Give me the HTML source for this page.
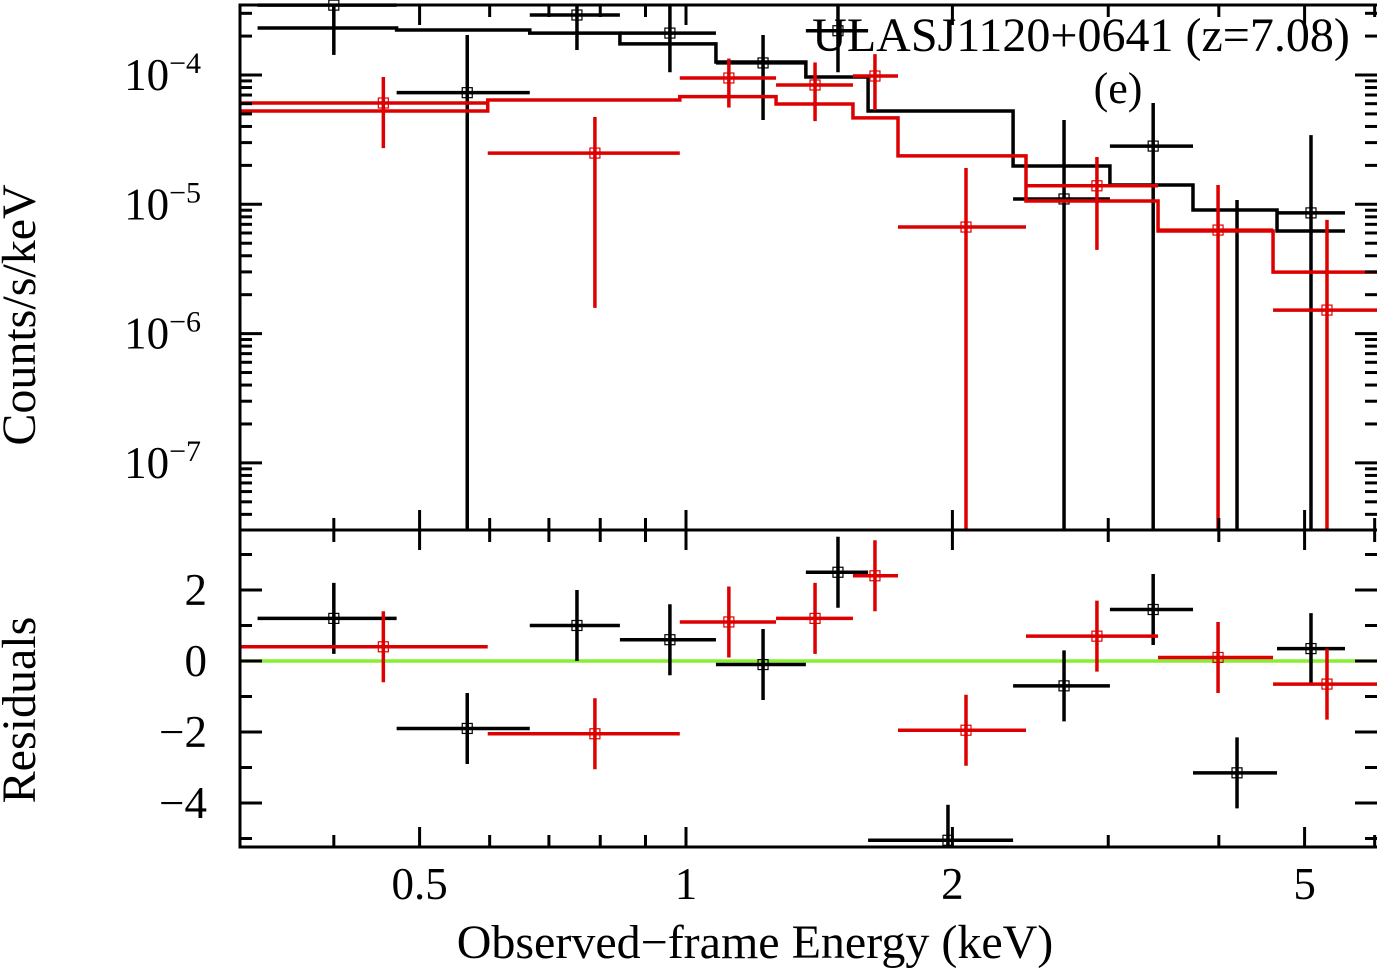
<!DOCTYPE html>
<html><head><meta charset="utf-8"><style>
html,body{margin:0;padding:0;background:#fff;}
svg{display:block;font-family:"Liberation Serif",serif;}
</style></head><body>
<svg id="c" width="1377" height="968" viewBox="0 0 1377 968">
<g id="g"></g>
<text x="1081" y="51" font-size="48" text-anchor="middle">ULASJ1120+0641 (z=7.08)</text>
<text x="1118" y="103" font-size="44" text-anchor="middle">(e)</text>
<text transform="translate(35,315) rotate(-90)" font-size="48" text-anchor="middle">Counts/s/keV</text>
<text transform="translate(35,710) rotate(-90)" font-size="48" text-anchor="middle">Residuals</text>
<text x="755" y="958" font-size="48" text-anchor="middle">Observed−frame Energy (keV)</text>
</svg>
<script>
// black data (energy bins, counts)
const bLo=[0.328,0.471,0.666,0.842,1.081,1.366,1.606,2.342,3.013,3.74,4.654];
const bHi=[0.471,0.666,0.842,1.081,1.366,1.606,2.342,3.013,3.74,4.654,5.554];
const bE=[0.400,0.566,0.753,0.959,1.222,1.485,1.977,2.674,3.372,4.194,5.084];
const bVal=[3.47e-4,7.3e-5,2.91e-4,2.11e-4,1.24e-4,2.2e-4,0,1.1e-5,2.82e-5,0,8.58e-6];
const bErrLo=[1.43e-4,0,1.56e-4,1.05e-4,4.49e-5,1.05e-4,0,0,0,0,0];
const bErrHi=[3.8e-4,2.04e-4,3.8e-4,3.8e-4,2.04e-4,3.8e-4,0,4.49e-5,6.07e-5,1.08e-5,3.43e-5];
const bModel=[2.31e-4,2.23e-4,2.11e-4,1.74e-4,1.26e-4,9.66e-5,5.27e-5,1.98e-5,1.41e-5,9.04e-6,6.22e-6];
const bRes=[1.2,-1.9,1.0,0.6,-0.1,2.5,-5.05,-0.7,1.45,-3.15,0.35];
// red data
const rLo=[0.313,0.597,0.984,1.264,1.544,1.736,2.422,3.415,4.606];
const rHi=[0.597,0.984,1.264,1.544,1.736,2.422,3.415,4.606,6.04];
const rE=[0.455,0.789,1.118,1.399,1.635,2.072,2.913,3.992,5.30];
const rVal=[6.07e-5,2.49e-5,9.48e-5,8.37e-5,9.82e-5,6.67e-6,1.39e-5,6.32e-6,1.52e-6];
const rErrLo=[2.72e-5,1.58e-6,5.6e-5,4.4e-5,5.36e-5,0,4.44e-6,0,0];
const rErrHi=[9.66e-5,4.73e-5,1.34e-4,1.25e-4,1.45e-4,1.91e-5,2.32e-5,1.41e-5,7.57e-6];
const rModel=[5.27e-5,6.41e-5,6.8e-5,5.97e-5,4.66e-5,2.37e-5,1.06e-5,6.22e-6,2.99e-6];
const rRes=[0.4,-2.05,1.1,1.2,2.4,-1.95,0.7,0.1,-0.65];
const xTicks=[0.5,1,2,5];
const yTicksTop=[-7,-6,-5,-4];
const yTicksRes=[-4,-2,0,2];

const L=240,R=1377,T=5,MID=530,B=847;
const NS='http://www.w3.org/2000/svg';
const g=document.getElementById('g');
function X(e){return 686+885*Math.log10(e);}
function Y(v){return 75-129.3*(Math.log10(v)+4);}
function Yc(v){return v<=0?MID:Math.max(T,Math.min(MID,Y(v)));}
function Yr(r){return 661-35.5*r;}
function Yrc(r){return Math.max(MID,Math.min(B,Yr(r)));}
function el(t,a){const e=document.createElementNS(NS,t);for(const k in a)e.setAttribute(k,a[k]);g.appendChild(e);return e;}
function line(x1,y1,x2,y2,c,w,name){const e=el('line',{x1,y1,x2,y2,stroke:c,'stroke-width':w});

return e;}
function mark(x,y,c,name){const e=el('rect',{x:x-5,y:y-5,width:10,height:10,fill:'none',stroke:c,'stroke-width':1.2});

}

// green zero line
line(L,Yr(0),R,Yr(0),'#88ee33',3.5,'zero-line');

function series(lo,hi,E,val,elo,ehi,model,res,c,nm){
  let d='';
  for(let i=0;i<lo.length;i++){const y=Yc(model[i]);d+=(i?'L':'M')+X(lo[i])+' '+y+' L'+X(hi[i])+' '+y+' ';}
  const p=el('path',{d,fill:'none',stroke:c,'stroke-width':3.5});
  
  
  for(let i=0;i<lo.length;i++){
    const xc=X(E[i]);
    if(val[i]>0){const y=Yc(val[i]);
      line(X(lo[i]),y,X(hi[i]),y,c,3.5,nm+'-data-xerr');
      mark(xc,y,c,nm+'-data-point');}
    if(ehi[i]>0) line(xc,Yc(elo[i]),xc,Yc(ehi[i]),c,3.5,nm+'-data-yerr');
    const yr=Yr(res[i]);
    if(yr<=B+2){line(X(lo[i]),Math.min(yr,B),X(hi[i]),Math.min(yr,B),c,3.5,nm+'-residual-xerr');
      mark(xc,Math.min(yr,B-6),c,nm+'-residual-point');}
    line(xc,Yrc(res[i]+1),xc,Yrc(res[i]-1),c,3.5,nm+'-residual-yerr');
  }
}
series(bLo,bHi,bE,bVal,bErrLo,bErrHi,bModel,bRes,'#000','black');
series(rLo,rHi,rE,rVal,rErrLo,rErrHi,rModel,rRes,'#dd0000','red');

[[T,MID],[MID,B]].forEach((p,i)=>{const r=el('rect',{x:L,y:p[0],width:R-L+2,height:p[1]-p[0],fill:'none',stroke:'#000','stroke-width':3});

});

const minors=[0.4,0.5,0.6,0.7,0.8,0.9,1,2,3,4,5,6];
minors.forEach(v=>{const x=X(v);if(x<=L||x>=R)return;const big=xTicks.includes(v);const len=big?20:12;
 [T,MID].forEach(y0=>line(x,y0,x,y0+len,'#000',3,'x-tick'));
 [MID,B].forEach(y0=>line(x,y0,x,y0-len,'#000',3,'x-tick'));});
xTicks.forEach(v=>{const t=el('text',{x:X(v),y:899,'font-size':45,'text-anchor':'middle'});t.textContent=String(v);

});

for(let dcd=-8;dcd<=-4;dcd++){for(let m=1;m<=9;m++){const y=Y(m*Math.pow(10,dcd));if(y<T||y>MID)continue;const len=m==1?22:12;
 line(L,y,L+len,y,'#000',3,'y-tick');line(R,y,R-len,y,'#000',3,'y-tick');}}
yTicksTop.forEach(p=>{const t=el('text',{x:201,y:Y(Math.pow(10,p))+15,'font-size':45,'text-anchor':'end'});
t.textContent='10';const s=document.createElementNS(NS,'tspan');s.setAttribute('dy','-17');s.setAttribute('font-size','30');s.textContent='−'+(-p);t.appendChild(s);

});
for(let r=-5;r<=3;r++){const y=Yr(r);const big=yTicksRes.includes(r);const len=big?22:12;
 line(L,y,L+len,y,'#000',3,'res-tick');line(R,y,R-len,y,'#000',3,'res-tick');}
yTicksRes.forEach(r=>{const t=el('text',{x:207,y:Yr(r)+15,'font-size':45,'text-anchor':'end'});t.textContent=r<0?'−'+(-r):String(r);

});
</script>
</body></html>
